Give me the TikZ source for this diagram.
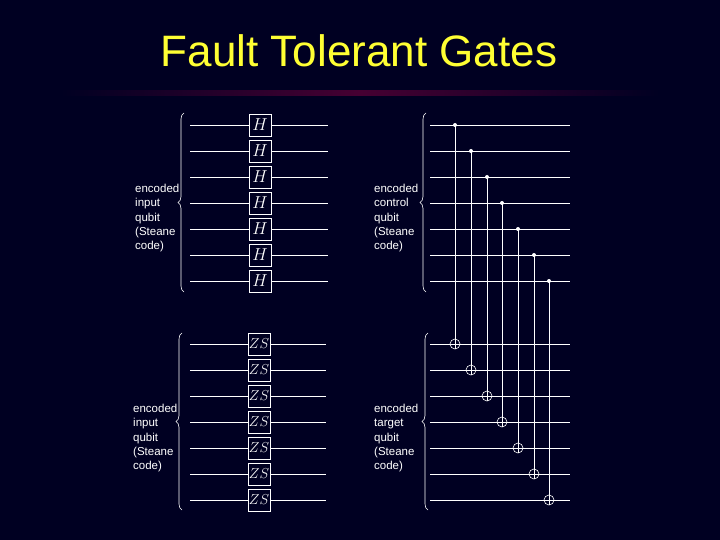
\documentclass[tikz,border=0pt]{standalone}
\usepackage{fontspec}
\setmainfont{Liberation Sans}
\usetikzlibrary{decorations.pathreplacing}
\definecolor{bg}{HTML}{000022}
\definecolor{ttl}{HTML}{FFFF33}
\begin{document}
\begin{tikzpicture}[x=1pt,y=-1pt,
  wire/.style={white,line width=0.8pt},
  gate/.style={draw=white,fill=bg,text=white,line width=0.8pt,minimum width=22pt,minimum height=22pt,inner sep=0pt,font=\fontsize{16}{16}\selectfont},
  lbl/.style={text=white,align=left,anchor=north west,font=\fontsize{11.5}{14.3}\selectfont,inner sep=0pt},
  brc/.style={white,line width=0.6pt,decorate,decoration={brace,amplitude=6pt,mirror}},
  ctl/.style={circle,fill=white,inner sep=0pt,minimum size=4pt},
  tgt/.style={circle,draw=white,line width=0.6pt,inner sep=0pt,minimum size=10pt}]
\fill[bg] (0,0) rectangle (720,540);
\useasboundingbox (0,0) rectangle (720,540);
\shade[left color=bg,right color=bg,middle color={rgb,255:red,70;green,0;blue,50}] (60,91) rectangle (660,96);
\node[text=ttl,font=\fontsize{44}{44}\selectfont] (title) at (359,51) {Fault Tolerant Gates};
\foreach \i in {0,...,6}{
  \pgfmathsetmacro\yy{125+26*\i}
  \coordinate (a\i) at (190,\yy); \coordinate (b\i) at (328,\yy);
  \draw[wire] (a\i) -- (b\i);
  \node[gate] (h\i) at (260,\yy) {$H$};
  \pgfmathsetmacro\yz{344+26*\i}
  \coordinate (c\i) at (190,\yz); \coordinate (d\i) at (326,\yz);
  \draw[wire] (c\i) -- (d\i);
  \node[gate,font=\fontsize{15}{15}\selectfont] (z\i) at (259,\yz) {$ZS$};
  \coordinate (e\i) at (430,\yy); \coordinate (f\i) at (570,\yy);
  \draw[wire] (e\i) -- (f\i);
  \coordinate (g\i) at (430,\yz); \coordinate (k\i) at (570,\yz);
  \draw[wire] (g\i) -- (k\i);
}
\coordinate (br1a) at (184,113); \coordinate (br1b) at (184,292);
\draw[brc] (br1a) -- (br1b);
\coordinate (br2a) at (182,333); \coordinate (br2b) at (182,510);
\draw[brc] (br2a) -- (br2b);
\coordinate (br3a) at (426,113); \coordinate (br3b) at (426,292);
\draw[brc] (br3a) -- (br3b);
\coordinate (br4a) at (428,333); \coordinate (br4b) at (428,510);
\draw[brc] (br4a) -- (br4b);
\node[lbl] (t1) at (135,184) {encoded\\input\\qubit\\(Steane\\code)};
\node[lbl] (t2) at (133,404) {encoded\\input\\qubit\\(Steane\\code)};
\node[lbl] (t3) at (374,184) {encoded\\control\\qubit\\(Steane\\code)};
\node[lbl] (t4) at (374,404) {encoded\\target\\qubit\\(Steane\\code)};
\foreach \i/\xx in {0/455,1/471,2/487,3/502,4/518,5/534,6/549}{
  \pgfmathsetmacro\yy{125+26*\i}
  \pgfmathsetmacro\yz{344+26*\i}
  \node[ctl] (p\i) at (\xx,\yy) {};
  \node[tgt] (q\i) at (\xx,\yz) {};
  \draw[wire] (p\i.center) -- (q\i.south);
  \draw[wire] (q\i.west) -- (q\i.east);
}
\end{tikzpicture}
\end{document}
